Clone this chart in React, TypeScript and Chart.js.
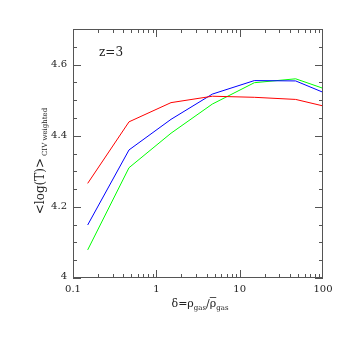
import React, { useEffect, useRef } from "react";
import { Chart, registerables } from "chart.js";

Chart.register(...registerables);

const densities = [0.15, 0.47, 1.5, 4.7, 15, 47, 150];
const redSeries = [4.266, 4.439, 4.493, 4.511, 4.508, 4.502, 4.474];
const blueSeries = [4.149, 4.36, 4.446, 4.517, 4.555, 4.554, 4.505];
const greenSeries = [4.079, 4.31, 4.407, 4.489, 4.549, 4.56, 4.519];

const xTickLabels = ["0.1", "1", "10", "100"];
const xTickValues = [0.1, 1, 10, 100];
const yTickLabels = ["4", "4.2", "4.4", "4.6"];
const yTickValues = [4, 4.2, 4.4, 4.6];
const panelLabel = "z=3";

const SERIF = '"DejaVu Serif", "Liberation Serif", serif';

const framePlugin = {
  id: "framePlugin",
  afterDraw(chart: any) {
    const ctx = chart.ctx;
    const { left, right, top, bottom } = chart.chartArea;
    const xs = chart.scales.x;
    const ys = chart.scales.y;
    ctx.save();
    ctx.strokeStyle = "#555";
    ctx.lineWidth = 1;
    ctx.strokeRect(left + 0.5, top + 0.5, right - left - 1, bottom - top - 1);

    const line = (x1: number, y1: number, x2: number, y2: number) => {
      ctx.beginPath();
      ctx.moveTo(x1, y1);
      ctx.lineTo(x2, y2);
      ctx.stroke();
    };

    // y ticks
    for (let i = 0; i <= 14; i++) {
      const v = 4 + i * 0.05;
      const py = Math.round(ys.getPixelForValue(v)) + 0.5;
      const major = i % 4 === 0;
      const len = major ? 8 : 4;
      line(left, py, left + len, py);
      line(right, py, right - len, py);
    }
    // x ticks
    const decades = [0.1, 1, 10];
    decades.forEach((d) => {
      for (let m = 1; m <= 9; m++) {
        const v = d * m;
        const px = Math.round(xs.getPixelForValue(v)) + 0.5;
        const len = m === 1 ? 8 : 4;
        line(px, bottom, px, bottom - len);
        line(px, top, px, top + len);
      }
    });

    ctx.fillStyle = "#222";
    ctx.font = `10px ${SERIF}`;
    ctx.textAlign = "right";
    ctx.textBaseline = "middle";
    yTickValues.forEach((v, i) => {
      const py = ys.getPixelForValue(v);
      ctx.fillText(yTickLabels[i], left - 6, i === 0 ? py - 2 : py);
    });
    ctx.textAlign = "center";
    ctx.textBaseline = "top";
    xTickValues.forEach((v, i) => {
      const px = xs.getPixelForValue(v);
      ctx.fillText(xTickLabels[i], px, bottom + 6);
    });

    // panel label
    ctx.font = `12px ${SERIF}`;
    ctx.textAlign = "left";
    ctx.textBaseline = "middle";
    ctx.fillText(panelLabel, left + 26, top + 24);

    // x title: δ=ρgas/ρ̄gas
    const xTitleY = 303;
    const parts: [string, number, number][] = [
      ["δ=ρ", 11, 0],
      ["gas", 7, 3],
      ["/ρ", 11, 0],
      ["gas", 7, 3],
    ];
    let total = 0;
    parts.forEach(([t, s]) => {
      ctx.font = `${s}px ${SERIF}`;
      total += ctx.measureText(t).width;
    });
    let cx = (left + right) / 2 - total / 2 + 2;
    ctx.textBaseline = "alphabetic";
    parts.forEach(([t, s, dy], idx) => {
      ctx.font = `${s}px ${SERIF}`;
      const w = ctx.measureText(t).width;
      ctx.fillText(t, cx, xTitleY + 4 + dy);
      if (idx === 2) {
        const rw = ctx.measureText("ρ").width;
        ctx.beginPath();
        ctx.moveTo(cx + w - rw, xTitleY - 5.5);
        ctx.lineTo(cx + w, xTitleY - 5.5);
        ctx.lineWidth = 0.8;
        ctx.strokeStyle = "#222";
        ctx.stroke();
      }
      cx += w;
    });

    // y title rotated
    ctx.save();
    ctx.translate(40, 160);
    ctx.rotate(-Math.PI / 2);
    const yParts: [string, number, number][] = [
      ["<log(T)>", 12, 0],
      ["CIV weighted", 7, 3],
    ];
    let ytotal = 0;
    yParts.forEach(([t, s]) => {
      ctx.font = `${s}px ${SERIF}`;
      ytotal += ctx.measureText(t).width + 2;
    });
    let yx = -ytotal / 2;
    yParts.forEach(([t, s, dy]) => {
      ctx.font = `${s}px ${SERIF}`;
      ctx.fillText(t, yx, 4 + dy);
      yx += ctx.measureText(t).width + 2;
    });
    ctx.restore();

    ctx.restore();
  },
};

export default function App() {
  const ref = useRef<HTMLCanvasElement | null>(null);
  useEffect(() => {
    document.body.style.margin = "0";
    const mk = (vals: number[]) => densities.map((d, i) => ({ x: d, y: vals[i] }));
    const chart = new Chart(ref.current as HTMLCanvasElement, {
      type: "line",
      data: {
        datasets: [
          { data: mk(redSeries), borderColor: "#ff0000", borderWidth: 1, pointRadius: 0, tension: 0 },
          { data: mk(blueSeries), borderColor: "#0000ff", borderWidth: 1, pointRadius: 0, tension: 0 },
          { data: mk(greenSeries), borderColor: "#00ff00", borderWidth: 1, pointRadius: 0, tension: 0 },
        ],
      },
      options: {
        responsive: false,
        animation: false,
        layout: { padding: { left: 73, right: 18, top: 29, bottom: 63 } },
        plugins: { legend: { display: false }, tooltip: { enabled: false } },
        scales: {
          x: { type: "logarithmic", min: 0.1, max: 100, display: false },
          y: { type: "linear", min: 4, max: 4.7, display: false },
        },
      },
      plugins: [framePlugin],
    });
    return () => chart.destroy();
  }, []);
  return (
    <div style={{ position: "absolute", left: 0, top: 0, width: 341, height: 341, background: "#fff" }}>
      <canvas ref={ref} width={341} height={341} style={{ width: 341, height: 341 }} />
    </div>
  );
}
